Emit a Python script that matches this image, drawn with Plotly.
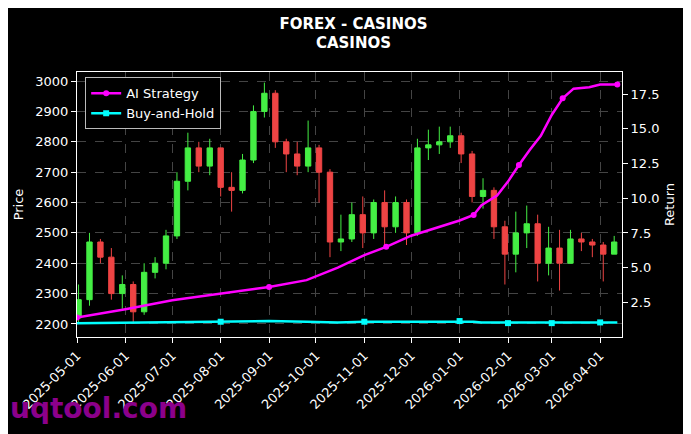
import pandas as pd
import plotly.graph_objects as go
from plotly.subplots import make_subplots

week_dates = list(pd.date_range("2025-05-02", periods=50, freq="7D"))
closes = [2280, 2470, 2420, 2300, 2330, 2240, 2370, 2400, 2490, 2670,
          2780, 2720, 2780, 2650, 2640, 2740, 2900, 2960, 2800, 2760,
          2720, 2780, 2700, 2470, 2480, 2560, 2500, 2600, 2520, 2600,
          2500, 2780, 2790, 2800, 2820, 2760, 2620, 2640, 2520, 2430,
          2500, 2530, 2400, 2450, 2400, 2480, 2470, 2460, 2430, 2470]
highs = [2330, 2500, 2480, 2450, 2360, 2340, 2400, 2420, 2510, 2700,
         2830, 2800, 2810, 2760, 2700, 2760, 2920, 2995, 2970, 2810,
         2800, 2870, 2790, 2710, 2560, 2600, 2620, 2610, 2640, 2620,
         2610, 2810, 2840, 2850, 2850, 2830, 2770, 2680, 2650, 2540,
         2570, 2590, 2560, 2520, 2510, 2510, 2500, 2480, 2470, 2490]
lows = [2200, 2260, 2400, 2280, 2250, 2200, 2230, 2350, 2380, 2480,
        2640, 2700, 2690, 2620, 2570, 2630, 2730, 2880, 2780, 2700,
        2690, 2700, 2600, 2420, 2440, 2470, 2450, 2480, 2460, 2500,
        2460, 2490, 2740, 2760, 2780, 2730, 2600, 2580, 2480, 2330,
        2370, 2450, 2340, 2360, 2310, 2400, 2440, 2420, 2340, 2430]
opens = [2220] + closes[:-1]

ret_dates = ["2025-05-01", "2025-06-01", "2025-07-01", "2025-08-01", "2025-09-01",
             "2025-09-25", "2025-10-15", "2025-11-01", "2025-11-15", "2025-12-01",
             "2025-12-15", "2026-01-01", "2026-01-10", "2026-01-15", "2026-01-25",
             "2026-02-01", "2026-02-08", "2026-02-15", "2026-02-22", "2026-03-01",
             "2026-03-08", "2026-03-15", "2026-03-25", "2026-04-01", "2026-04-12"]
ai_returns = [1.4, 2.0, 2.65, 3.1, 3.6, 4.1, 5.0, 5.9, 6.5, 7.3,
              7.8, 8.4, 8.8, 9.5, 10.2, 11.2, 12.4, 13.5, 14.5, 16.0,
              17.2, 17.9, 18.0, 18.2, 18.2]
bh_returns = [1.0, 1.05, 1.1, 1.1, 1.15, 1.1, 1.05, 1.1, 1.1, 1.1,
              1.15, 1.15, 1.1, 1.05, 1.05, 1.0, 1.0, 1.05, 1.05, 1.0,
              1.05, 1.05, 1.05, 1.05, 1.05]

fig = make_subplots(specs=[[{"secondary_y": True}]])
fig.add_trace(go.Candlestick(x=week_dates, open=opens, high=highs, low=lows, close=closes,
                             increasing=dict(line=dict(color="#44ee44", width=1), fillcolor="#44ee44"),
                             decreasing=dict(line=dict(color="#ee4444", width=1), fillcolor="#ee4444"),
                             whiskerwidth=0, showlegend=False), secondary_y=False)
fig.add_trace(go.Scatter(x=ret_dates, y=ai_returns, name="AI Strategy", mode="lines+markers",
                         line=dict(color="#ff00ff", width=2.5),
                         marker=dict(size=6, color="#ff00ff", maxdisplayed=8)), secondary_y=True)
fig.add_trace(go.Scatter(x=ret_dates, y=bh_returns, name="Buy-and-Hold", mode="lines+markers",
                         line=dict(color="#00ffff", width=2.5),
                         marker=dict(size=6, symbol="square", color="#00ffff", maxdisplayed=8)), secondary_y=True)

grid = dict(showgrid=True, gridcolor="#444", griddash="dash", gridwidth=0.5)
fig.update_layout(
    width=691, height=434, paper_bgcolor="black", plot_bgcolor="black",
    font=dict(family="DejaVu Sans", color="white", size=13),
    margin=dict(l=69, r=77, t=64, b=105, autoexpand=False),
    title=dict(text="<b>FOREX - CASINOS<br>CASINOS</b>", x=0.5, y=0.952, xanchor="center", yanchor="middle",
               font=dict(size=15)),
    legend=dict(x=0.015, y=0.98, xanchor="left", yanchor="top", bgcolor="black",
                bordercolor="#bbb", borderwidth=1, font=dict(size=13)),
    xaxis=dict(rangeslider=dict(visible=False), range=["2025-05-01", "2026-04-15"], automargin=False,
               domain=[0, 1],
               tickvals=["2025-%02d-01" % m for m in range(5, 13)] + ["2026-%02d-01" % m for m in range(1, 5)],
               tickformat="%Y-%m-%d", tickangle=-45, showline=True, linecolor="white", mirror=True,
               ticks="outside", tickcolor="white", tickfont=dict(size=13), **grid),
    yaxis=dict(title=dict(text="Price", font=dict(size=13), standoff=8), range=[2157, 3030], dtick=100, automargin=False,
               showline=True, linecolor="white", mirror=True, ticks="outside", tickcolor="white", **grid),
    yaxis2=dict(title=dict(text="Return", font=dict(size=13), standoff=6), range=[0, 19.1], automargin=False,
                tickvals=[2.5, 5, 7.5, 10, 12.5, 15, 17.5], ticktext=["2.5", "5.0", "7.5", "10.0", "12.5", "15.0", "17.5"],
                ticks="outside", tickcolor="white", showgrid=False, zeroline=False),
    annotations=[dict(text="<b>uqtool.com</b>", xref="paper", yref="paper", x=-0.127, y=-0.268,
                      xanchor="left", yanchor="middle", showarrow=False,
                      font=dict(size=28, color="#8b008b"))],
)
fig.write_html("out.html")
